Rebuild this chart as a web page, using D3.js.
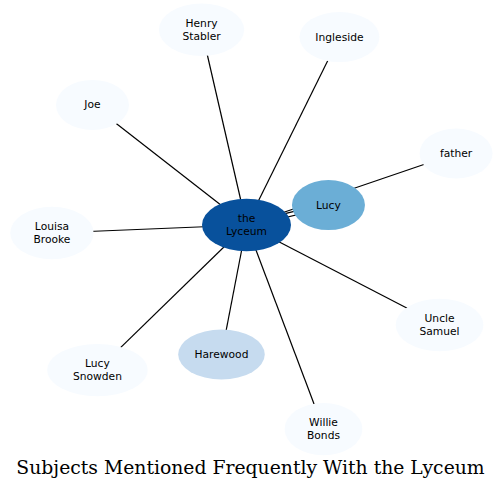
<!DOCTYPE html>
<html>
<head>
<meta charset="utf-8">
<script src="https://cdn.jsdelivr.net/npm/d3@7"></script>
<style>
  body { margin: 0; background: #fff; }
</style>
</head>
<body>
<div id="chart"></div>
<script>
// subjects and how often each comes up with the Lyceum (colour bin)
var subjects = ["the Lyceum", "Lucy", "Harewood", "Henry Stabler", "Ingleside", "Joe",
                "father", "Louisa Brooke", "Uncle Samuel", "Lucy Snowden", "Willie Bonds"];
var frequency = [7, 4, 2, 0, 0, 0, 0, 0, 0, 0, 0];

// edges (source -> target), Lucy appears twice
var edgeSource = ["the Lyceum", "the Lyceum", "the Lyceum", "the Lyceum", "the Lyceum", "the Lyceum",
                  "the Lyceum", "the Lyceum", "the Lyceum", "the Lyceum", "the Lyceum"];
var edgeTarget = ["Lucy", "Lucy", "Harewood", "Henry Stabler", "Ingleside", "Joe",
                  "father", "Louisa Brooke", "Uncle Samuel", "Lucy Snowden", "Willie Bonds"];

// layout coordinates from the graph engine (graph units, y up)
var layoutX = [0, 59.6, -18.2, -32.7, 67.6, -112, 152.4, -141.5, 140.4, -108.4, 56];
var layoutY = [0, 14.5, -94.2, 142, 136.7, 87.3, 52, -5.8, -72.7, -105.5, -148.4];

var width = 501, height = 490;

var svg = d3.select("#chart")
  .append("svg")
  .attr("width", width)
  .attr("height", height);

var x = d3.scaleLinear().domain([0, 100]).range([246.5, 384]);
var y = d3.scaleLinear().domain([0, 100]).range([225, 87.5]);

var color = d3.scaleQuantize().domain([0, 9]).range(d3.schemeBlues[9]);

var nodes = subjects.map(function (s, i) {
  return { name: s, lines: s.split(" "), value: frequency[i], x: x(layoutX[i]), y: y(layoutY[i]) };
});
var byName = {};
nodes.forEach(function (n) { byName[n.name] = n; });

// edges first so the node fills sit over them
var edges = edgeSource.map(function (s, i) { return { source: byName[s], target: byName[edgeTarget[i]] }; });
// offset repeated edges so both are visible
var seen = {};
edges.forEach(function (e) {
  var k = e.source.name + "|" + e.target.name;
  seen[k] = (seen[k] || 0) + 1;
  e.k = seen[k];
});
edges.forEach(function (e) {
  var k = e.source.name + "|" + e.target.name;
  var total = seen[k];
  e.off = total > 1 ? (e.k - (total + 1) / 2) * 4 : 0;
});

svg.append("g")
  .selectAll("line")
  .data(edges)
  .enter()
  .append("line")
  .each(function (d) {
    var dx = d.target.x - d.source.x, dy = d.target.y - d.source.y;
    var len = Math.sqrt(dx * dx + dy * dy);
    var px = -dy / len * d.off, py = dx / len * d.off;
    d3.select(this)
      .attr("x1", d.source.x + px).attr("y1", d.source.y + py)
      .attr("x2", d.target.x + px).attr("y2", d.target.y + py);
  })
  .attr("stroke", "#000")
  .attr("stroke-width", 1.2);

var node = svg.append("g")
  .selectAll("g")
  .data(nodes)
  .enter()
  .append("g")
  .attr("transform", function (d) { return "translate(" + d.x + "," + d.y + ")"; });

var ell = node.append("ellipse")
  .attr("fill", function (d) { return color(d.value); })
  .attr("stroke", "none");

var lineH = 12.5;
var label = node.append("text")
  .attr("text-anchor", "middle")
  .attr("font-family", "DejaVu Sans")
  .attr("font-size", "10.7px")
  .attr("fill", "#000");

label.selectAll("tspan")
  .data(function (d) { return d.lines.map(function (t, i) { return { t: t, i: i, n: d.lines.length }; }); })
  .enter()
  .append("tspan")
  .attr("x", 0)
  .attr("y", function (d) { return (d.i - (d.n - 1) / 2) * lineH + 3.5; })
  .text(function (d) { return d.t; });

// size each ellipse round its label, the way graphviz does
ell.each(function (d, i) {
  var w = 0;
  d3.select(label.nodes()[i]).selectAll("tspan").each(function () {
    w = Math.max(w, this.getComputedTextLength());
  });
  var bw = w + 22, bh = d.lines.length * 13 + 11;
  var minW = 73, minH = 50;
  if (bh * Math.SQRT2 < minH) {
    bw = bw * Math.sqrt(1 / (1 - Math.pow(bh / minH, 2)));
    bh = minH;
  } else {
    bw = bw * Math.SQRT2;
    bh = bh * Math.SQRT2;
  }
  d3.select(this)
    .attr("rx", Math.max(minW, bw) / 2)
    .attr("ry", Math.max(minH, bh) / 2);
});

svg.append("text")
  .attr("x", 250.5)
  .attr("y", 474)
  .attr("text-anchor", "middle")
  .attr("font-family", "DejaVu Serif")
  .attr("font-size", "18.8px")
  .attr("fill", "#000")
  .text("Subjects Mentioned Frequently With the Lyceum");
</script>
</body>
</html>
